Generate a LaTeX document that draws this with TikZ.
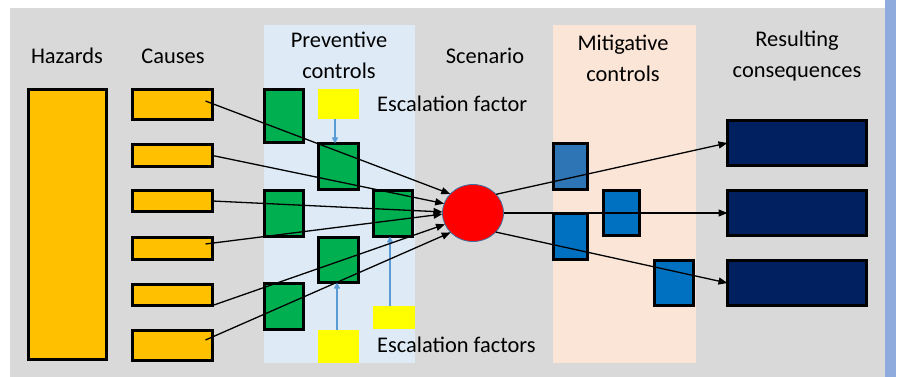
\documentclass[tikz,border=0pt]{standalone}
\usepackage{fontspec}
\setmainfont{Carlito}
\usetikzlibrary{arrows.meta,calc,shapes.geometric}
\definecolor{bggray}{HTML}{D9D9D9}
\definecolor{prevband}{HTML}{DEEBF7}
\definecolor{mitband}{HTML}{FBE5D6}
\definecolor{orangefill}{HTML}{FFC000}
\definecolor{greenfill}{HTML}{00B050}
\definecolor{yellowfill}{HTML}{FFFF00}
\definecolor{escblue}{HTML}{5B9BD5}
\definecolor{circborder}{HTML}{41719C}
\definecolor{mitA}{HTML}{2E75B6}
\definecolor{mitB}{HTML}{0070C0}
\definecolor{consfill}{HTML}{002060}
\definecolor{stripe}{HTML}{8FAADC}
\tikzset{
  bbox/.style={draw=black, line width=3pt, inner sep=0pt, outer sep=0pt},
  ybox/.style={fill=yellowfill, inner sep=0pt, outer sep=0pt},
  flow/.style={draw=black, line width=1.3pt, -{Triangle[length=9pt,width=7pt]}},
  esc/.style={draw=escblue, line width=1.5pt, -{Triangle[length=6pt,width=6pt]}},
  hdr/.style={font=\fontsize{22.4pt}{31pt}\selectfont, align=center, inner sep=0pt},
  lbl/.style={font=\fontsize{22.4pt}{31pt}\selectfont, anchor=west, inner sep=0pt},
}
% framed box: name, style, x0, y0, x1, y1 (outer extents in pixels)
\newcommand\fbx[6]{\node[bbox,#2, minimum width={(#5-#3-3)*1pt}, minimum height={(#6-#4-3)*1pt}] (#1) at ({(#3+#5)/2},{(#4+#6)/2}) {};}
% plain box without border
\newcommand\pbx[6]{\node[ybox,#2, minimum width={(#5-#3)*1pt}, minimum height={(#6-#4)*1pt}] (#1) at ({(#3+#5)/2},{(#4+#6)/2}) {};}
\begin{document}
\begin{tikzpicture}[x=1pt,y=-1pt]
\useasboundingbox (0,0) rectangle (898,377);
% backgrounds
\fill[bggray] (10,8) rectangle (885,377);
\fill[stripe] (885,0) rectangle (896,377);
\fill[prevband] (264,25) rectangle (415,363);
\fill[mitband] (553,25) rectangle (696,363);
% headers
\node[hdr] (hHaz) at (67,56) {Hazards};
\node[hdr] (hCau) at (173,56) {Causes};
\node[hdr] (hPrev) at (339,55.5) {Preventive\\controls};
\node[hdr] (hScen) at (485,56) {Scenario};
\node[hdr] (hMit) at (623,58.5) {Mitigative\\controls};
\node[hdr] (hRes) at (797,56.5) {Resulting\\consequences};
\node[lbl] (lEsc1) at (377,104) {Escalation factor};
\node[lbl] (lEsc2) at (377,345) {Escalation factors};
% hazards and causes
\fbx{haz}{fill=orangefill}{27}{88}{108}{361}
\fbx{c1}{fill=orangefill}{131}{88}{214}{121}
\fbx{c2}{fill=orangefill}{131}{143}{214}{168}
\fbx{c3}{fill=orangefill}{131}{189}{214}{213}
\fbx{c4}{fill=orangefill}{131}{236}{214}{261}
\fbx{c5}{fill=orangefill}{131}{283}{214}{307}
\fbx{c6}{fill=orangefill}{131}{329}{214}{362}
% preventive controls
\fbx{g1}{fill=greenfill}{263}{88}{305}{144}
\fbx{g2}{fill=greenfill}{317}{142}{360}{191}
\fbx{g3}{fill=greenfill}{263}{189}{305}{238}
\fbx{g4}{fill=greenfill}{372}{189}{414}{238}
\fbx{g5}{fill=greenfill}{317}{236}{360}{284}
\fbx{g6}{fill=greenfill}{263}{282}{305}{331}
% escalation factors
\pbx{y1}{}{318}{89}{359}{119}
\pbx{y2}{}{373}{306}{415}{329}
\pbx{y3}{}{318}{330}{359}{363}
% scenario
\node[ellipse, fill=red, draw=circborder, line width=0.8pt, minimum width=61pt, minimum height=57pt, inner sep=0pt, outer sep=0pt] (sc) at (473,213) {};
% mitigative controls
\fbx{m1}{fill=mitA}{552}{142}{589}{191}
\fbx{m2}{fill=mitB}{602}{189}{641}{237}
\fbx{m3}{fill=mitB}{552}{212}{589}{261}
\fbx{m4}{fill=mitB}{653}{259}{695}{307}
% consequences
\fbx{k1}{fill=consfill}{726}{119}{868}{167}
\fbx{k2}{fill=consfill}{726}{189}{868}{237}
\fbx{k3}{fill=consfill}{726}{259}{868}{307}
% escalation arrows
\draw[esc] ([xshift=-3.5pt]y1.south) -- ([xshift=-3.5pt]g2.north);
\draw[esc] ([xshift=-4pt]y2.north) -- ([xshift=-3pt]g4.south);
\draw[esc] ([xshift=-1.5pt]y3.north) -- ([xshift=-1.5pt]g5.south);
% flows into scenario
\draw[flow] ($(c1.east)+(-7,-3.5)$) -- (sc.140);
\draw[flow] (c2.east) -- (sc.162);
\draw[flow] (c3.east) -- (sc.178);
\draw[flow] ($(c4.east)+(-7,-4.5)$) -- (sc.182);
\draw[flow] (c5.south east) -- (sc.202);
\draw[flow] ($(c6.east)+(-7,-5.5)$) -- (sc.221);
% flows to consequences
\draw[flow] (sc.39) -- (k1.west);
\draw[flow] (sc.0) -- (k2.west);
\draw[flow] (sc.-40) -- (k3.west);
\end{tikzpicture}
\end{document}
